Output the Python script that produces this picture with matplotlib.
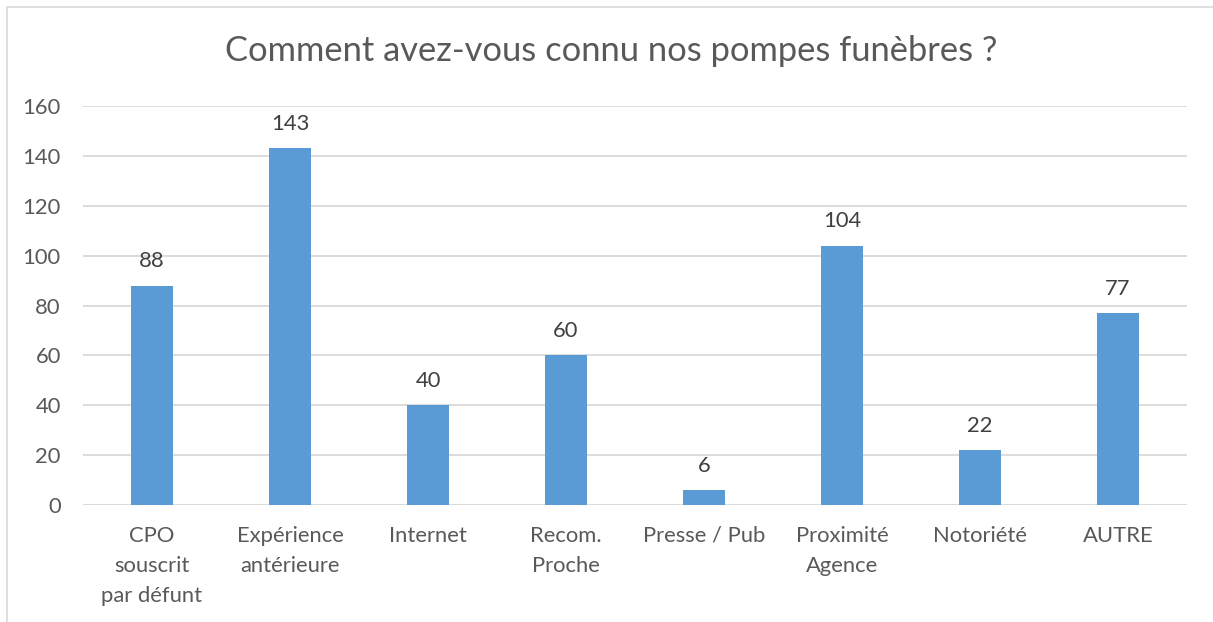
import matplotlib.pyplot as plt
from matplotlib.patches import Rectangle

categories = ["CPO\nsouscrit\npar défunt", "Expérience\nantérieure", "Internet",
              "Recom.\nProche", "Presse / Pub", "Proximité\nAgence", "Notoriété", "AUTRE"]
values = [88, 143, 40, 60, 6, 104, 22, 77]
yticks = [0, 20, 40, 60, 80, 100, 120, 140, 160]
title = "Comment avez-vous connu nos pompes funèbres ?"

plt.rcParams['font.family'] = ['Lato', 'DejaVu Sans']

fig = plt.figure(figsize=(12.13, 6.22), dpi=100)
ax = fig.add_axes([83 / 1213, 1 - 505 / 622, 1104 / 1213, 399 / 622])

x = range(len(categories))
bars = ax.bar(x, values, width=0.31, color="#5B9BD5", zorder=3)

for b, v in zip(bars, values):
    ax.annotate(str(v), (b.get_x() + b.get_width() / 2, v), xytext=(0, 17.5),
                textcoords="offset points", ha="center", va="center",
                fontsize=15.8, color="#404040")

ax.set_xlim(-0.5, len(categories) - 0.5)
ax.set_ylim(0, 160)
ax.set_yticks(yticks)
ax.set_xticks(list(x))
ax.set_xticklabels(categories, linespacing=1.62)
ax.tick_params(axis="y", length=0, pad=16, labelsize=15.8, labelcolor="#595959")
ax.tick_params(axis="x", length=0, pad=15, labelsize=15.8, labelcolor="#595959")
ax.grid(axis="y", color="#D9D9D9", linewidth=1.3, zorder=0)
for s in ax.spines.values():
    s.set_visible(False)

fig.text(611 / 1213, 1 - 51 / 622, title, ha="center", va="center",
         fontsize=24.8, color="#595959")

# chart border (only left and top visible in the crop)
fig.patches.append(Rectangle((7 / 1213, -0.1), 1.2, 1 - 7 / 622 + 0.1,
                             transform=fig.transFigure, fill=False,
                             edgecolor="#D9D9D9", linewidth=1.2))

fig.savefig("out.png", dpi=100)
